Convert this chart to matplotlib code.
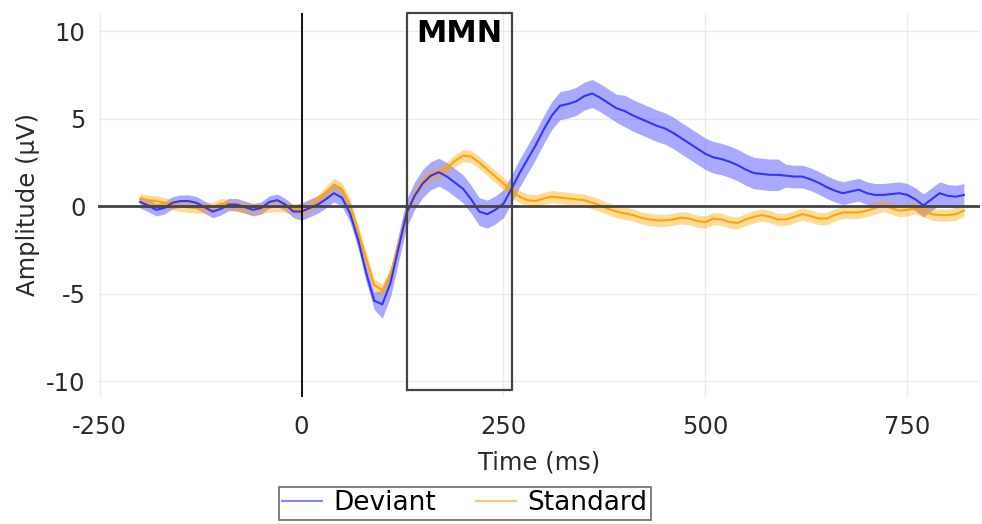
import numpy as np
import matplotlib
matplotlib.use("Agg")
import matplotlib.pyplot as plt

plt.rcParams["axes.unicode_minus"] = False

# time axis in ms, 10 ms steps
time_ms = list(range(-200, 830, 10))

deviant = [
    0.25, 0.05, -0.2, -0.1, 0.2, 0.3, 0.3, 0.2, -0.05, -0.3,
    -0.15, 0.1, 0.1, -0.05, -0.2, -0.1, 0.25, 0.35, 0.1, -0.3,
    -0.3, -0.1, 0.1, 0.4, 0.75, 0.5, -0.4, -1.9, -3.8, -5.4,
    -5.6, -4.4, -2.4, -0.4, 0.6, 1.3, 1.75, 1.95, 1.7, 1.35,
    1.0, 0.4, -0.3, -0.45, -0.2, 0.15, 1.0, 1.9, 2.7, 3.5,
    4.4, 5.2, 5.75, 5.85, 6.0, 6.3, 6.45, 6.2, 5.9, 5.6,
    5.45, 5.2, 5.0, 4.8, 4.6, 4.45, 4.2, 3.9, 3.6, 3.3,
    3.0, 2.8, 2.7, 2.55, 2.35, 2.1, 1.9, 1.85, 1.8, 1.8,
    1.75, 1.7, 1.7, 1.55, 1.35, 1.1, 0.9, 0.75, 0.85, 0.95,
    0.75, 0.65, 0.65, 0.7, 0.75, 0.65, 0.4, 0.05, 0.4, 0.75,
    0.6, 0.55, 0.65,
]
deviant_err = [0.35] * 20 + [0.5] * 10 + [0.8] * 30 + [0.9] * 20 + [0.65] * 23

standard = [
    0.4, 0.35, 0.3, 0.2, 0.1, 0.0, -0.05, -0.1, -0.1, -0.05,
    0.15, 0.1, 0.0, -0.1, -0.15, -0.1, -0.05, 0.0, -0.05, -0.15,
    -0.2, -0.05, 0.3, 0.8, 1.25, 1.0, 0.1, -1.4, -3.0, -4.5,
    -4.8, -3.9, -2.2, -0.4, 0.7, 1.4, 1.8, 1.9, 2.2, 2.6,
    2.9, 2.85, 2.5, 2.1, 1.7, 1.3, 0.85, 0.55, 0.35, 0.3,
    0.45, 0.55, 0.5, 0.45, 0.4, 0.35, 0.2, 0.05, -0.15, -0.3,
    -0.4, -0.5, -0.65, -0.75, -0.8, -0.8, -0.75, -0.65, -0.7, -0.85,
    -0.9, -0.7, -0.75, -0.9, -0.95, -0.75, -0.6, -0.5, -0.6, -0.75,
    -0.75, -0.6, -0.45, -0.55, -0.7, -0.7, -0.5, -0.35, -0.35, -0.35,
    -0.25, -0.1, 0.05, -0.1, -0.25, -0.2, -0.1, -0.25, -0.45, -0.5,
    -0.5, -0.45, -0.25,
]
standard_err = [0.3] * 20 + [0.35] * 83

mmn_window = [130, 261]
x_ticks = [-250, 0, 250, 500, 750]
y_ticks = [-10, -5, 0, 5, 10]

blue = "#3434ff"
orange = "#ffa500"
text_col = "#2a2a2a"

fig = plt.figure(figsize=(9.82, 5.24), dpi=100)
ax = fig.add_axes([98 / 982, 1 - 397 / 524, 882 / 982, 384 / 524])

t = np.array(time_ms)
dev = np.array(deviant)
std = np.array(standard)
ax.fill_between(t, dev - np.array(deviant_err), dev + np.array(deviant_err),
                color=blue, alpha=0.42, lw=0, zorder=2)
ax.fill_between(t, std - np.array(standard_err), std + np.array(standard_err),
                color=orange, alpha=0.4, lw=0, zorder=2)
ax.plot(t, std, color=orange, lw=1.5, zorder=3, label="Standard")
ax.plot(t, dev, color=blue, lw=1.5, zorder=4, label="Deviant")

ax.axhline(0, color="#444444", lw=2, zorder=5)
ax.axvline(0, color="black", lw=1.3, zorder=5)

ax.plot([mmn_window[0], mmn_window[0], mmn_window[1], mmn_window[1], mmn_window[0]],
        [-10.5, 11.05, 11.05, -10.5, -10.5], color="#444444", lw=1.6,
        zorder=6, clip_on=False)
ax.text(sum(mmn_window) / 2, 9.85, "MMN", ha="center", va="center",
        fontsize=22, fontweight="bold", zorder=7)

ax.set_xlim(-252, 840)
ax.set_ylim(-10.9, 11.05)
ax.set_xticks(x_ticks)
ax.set_yticks(y_ticks)
ax.grid(color="#ebebeb", lw=1)
ax.set_axisbelow(True)
for s in ax.spines.values():
    s.set_visible(False)
ax.tick_params(length=0, labelsize=17.5, colors=text_col)
ax.tick_params(axis="x", pad=13)
ax.tick_params(axis="y", pad=9)
ax.set_xlabel("Time (ms)", fontsize=17.5, color=text_col, labelpad=8)
ax.set_ylabel("Amplitude (µV)", fontsize=17.5, color=text_col, labelpad=4)

handles, labels = ax.get_legend_handles_labels()
leg = fig.legend(handles[::-1], labels[::-1], loc="center",
                 bbox_to_anchor=(465 / 982, 1 - 503.5 / 524), ncol=2,
                 fontsize=19, frameon=True, fancybox=False,
                 handlelength=1.5, handletextpad=0.45, columnspacing=1.5,
                 borderpad=0.12, borderaxespad=0)
leg.get_frame().set_edgecolor("#444444")
leg.get_frame().set_linewidth(1.2)
for line in leg.get_lines():
    line.set_alpha(0.6)

fig.savefig("out.png", dpi=100)
